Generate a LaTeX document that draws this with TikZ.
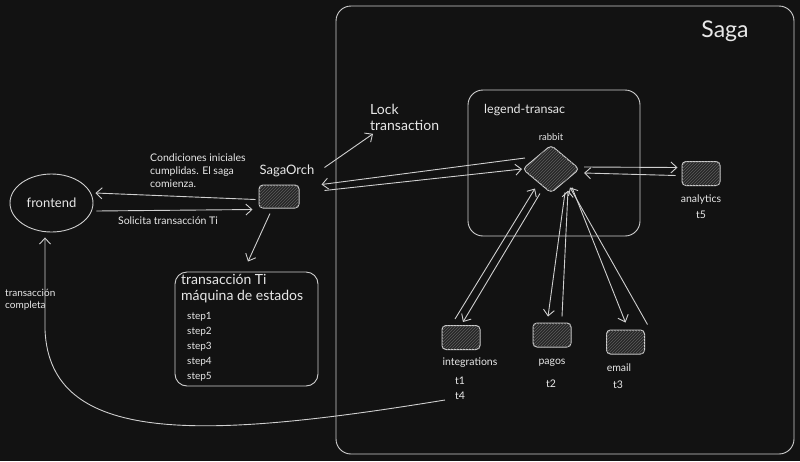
\documentclass[tikz,border=0pt]{standalone}
\usepackage{fontspec}
\setmainfont{Lato}
\usetikzlibrary{positioning,arrows.meta,shapes.geometric,patterns,calc}
\definecolor{CanvasBlack}{HTML}{121212}
\definecolor{InkGray}{HTML}{CFCFCF}
\definecolor{ChalkWhite}{HTML}{E8E8E8}
\definecolor{BoxShade}{HTML}{262626}
\definecolor{HatchGray}{HTML}{5C5C5C}

\begin{document}
\begin{tikzpicture}[x=1pt, y=-1pt,
        frame/.style={rectangle, draw=InkGray, line width=0.9pt, rounded corners=15pt},
        svc/.style={rectangle, draw=InkGray, line width=1pt, fill=BoxShade, rounded corners=4pt, minimum width=38pt, minimum height=24pt, inner sep=0pt, postaction={pattern=north east lines, pattern color=HatchGray}},
        hub/.style={diamond, draw=InkGray, line width=1pt, fill=BoxShade, rounded corners=4pt, minimum width=57pt, minimum height=48pt, inner sep=0pt, postaction={pattern=north east lines, pattern color=HatchGray}},
        lbl/.style={text=ChalkWhite, inner sep=0pt, font=\fontsize{10.5}{12}\selectfont},
        biglbl/.style={text=ChalkWhite, inner sep=0pt, font=\fontsize{14}{16}\selectfont},
        arrow/.style={draw=InkGray, line width=0.9pt, -{Straight Barb[length=6pt, width=11pt]}}
    ]
        \fill[CanvasBlack] (0,0) rectangle (800,461);
        \useasboundingbox (0,0) rectangle (800,461);

        % saga area
        \node [frame, minimum width=458pt, minimum height=448pt] (saga) at (565,230) {};
        \node [text=ChalkWhite, font=\fontsize{23}{26}\selectfont] (sagalbl) at (725,31) {Saga};

        \node [ellipse, draw=InkGray, line width=0.9pt, minimum width=83pt, minimum height=58pt, inner sep=0pt, text=ChalkWhite, font=\fontsize{13}{15}\selectfont] (frontend) at (51.5,203) {frontend};

        \node [svc, minimum width=40pt, minimum height=23pt] (orch) at (279,196.5) {};
        \node [biglbl, font=\fontsize{13}{15}\selectfont] (orchlbl) at (287,171) {SagaOrch};
        \node [lbl, align=left, anchor=north west] (cond) at (150,154) {Condiciones iniciales\\[1pt]cumplidas. El saga\\[1pt]comienza.};
        \node [lbl] (solicita) at (168,221) {Solicita transacción Ti};
        \node [biglbl, align=left, anchor=north west] (lock) at (370,104) {Lock\\transaction};

        % state machine
        \node [frame, rounded corners=12pt, minimum width=143pt, minimum height=114pt] (state) at (246.5,329) {};
        \node [biglbl, align=left, anchor=north west] (statetitle) at (181,274) {transacción Ti\\máquina de estados};
        \node [lbl, align=left, anchor=north west, font=\fontsize{10}{15}\selectfont] (steps) at (187,312) {step1\\step2\\step3\\step4\\step5};

        % broker
        \node [frame, minimum width=172pt, minimum height=146pt] (legend) at (554,163) {};
        \node [biglbl, anchor=west, font=\fontsize{12.5}{15}\selectfont] (legendlbl) at (484,110) {legend-transac};
        \node [hub] (rabbit) at (551,169) {};
        \node [lbl, font=\fontsize{9.5}{11}\selectfont, above=4pt of rabbit] (rabbitlbl) {rabbit};

        % services
        \node [svc] (analytics) at (701,173.5) {};
        \node [lbl, align=center, font=\fontsize{10.5}{16}\selectfont, below=9pt of analytics] (analyticslbl) {analytics\\t5};
        \node [svc] (integ) at (461,337.5) {};
        \node [lbl] (integlbl) at (470,363) {integrations};
        \node [lbl, align=center, font=\fontsize{10.5}{15}\selectfont] (integt) at (460,388) {t1\\t4};
        \node [svc] (pagos) at (552,335) {};
        \node [lbl] (pagoslbl) at (552,363) {pagos};
        \node [lbl] (pagost) at (551,384) {t2};
        \node [svc] (email) at (625.5,342) {};
        \node [lbl] (emaillbl) at (619,368) {email};
        \node [lbl] (emailt) at (618,385) {t3};

        \node [lbl, align=left, anchor=north west, font=\fontsize{10}{12}\selectfont] (done) at (5,289) {transacción\\completa};
        \coordinate (donestart) at (445,400);

        \draw [arrow] ($(orch.west)+(-3,3)$) -- ($(frontend.east)+(2,-10)$);
        \draw [arrow] ($(frontend.east)+(3,8)$) -- ($(orch.west)+(-6,13)$);
        \draw [arrow] ($(orch.north east)+(25,-17)$) -- ($(lock.south west)+(3,3)$);
        \draw [arrow] ($(orch.south)+(-9,5)$) -- ($(state.north)+(1.5,-10)$);
        \draw [arrow] ($(rabbit.west)+(3,-11)$) -- ($(orch.east)+(22,-12)$);
        \draw [arrow] ($(orch.east)+(25,-6)$) -- (rabbit.west);
        \draw [arrow] ($(rabbit.east)+(4,-2)$) -- ($(analytics.west)+(-4,-6)$);
        \draw [arrow] ($(analytics.west)+(-6,2)$) -- ($(rabbit.east)+(4,4)$);
        \draw [arrow] ($(integ.north)+(-6,-6)$) -- ($(rabbit.south)+(-16,-5)$);
        \draw [arrow] ($(rabbit.south)+(-11,0)$) -- ($(integ.north)+(2,-3)$);
        \draw [arrow] ($(rabbit.south)+(14,-1)$) -- ($(pagos.north)+(-4,-6)$);
        \draw [arrow] ($(pagos.north)+(10,-6)$) -- ($(rabbit.south)+(17,-3)$);
        \draw [arrow] ($(rabbit.south)+(21,-6)$) -- ($(email.north)+(0,-7)$);
        \draw [arrow] ($(email.north)+(22,-5)$) -- ($(rabbit.south)+(19,-6)$);
        \draw [arrow] (donestart) .. controls (200,440) and (50,445) .. (45,330) -- ($(frontend.south)+(-6.5,5)$);
    \end{tikzpicture}
\end{document}
